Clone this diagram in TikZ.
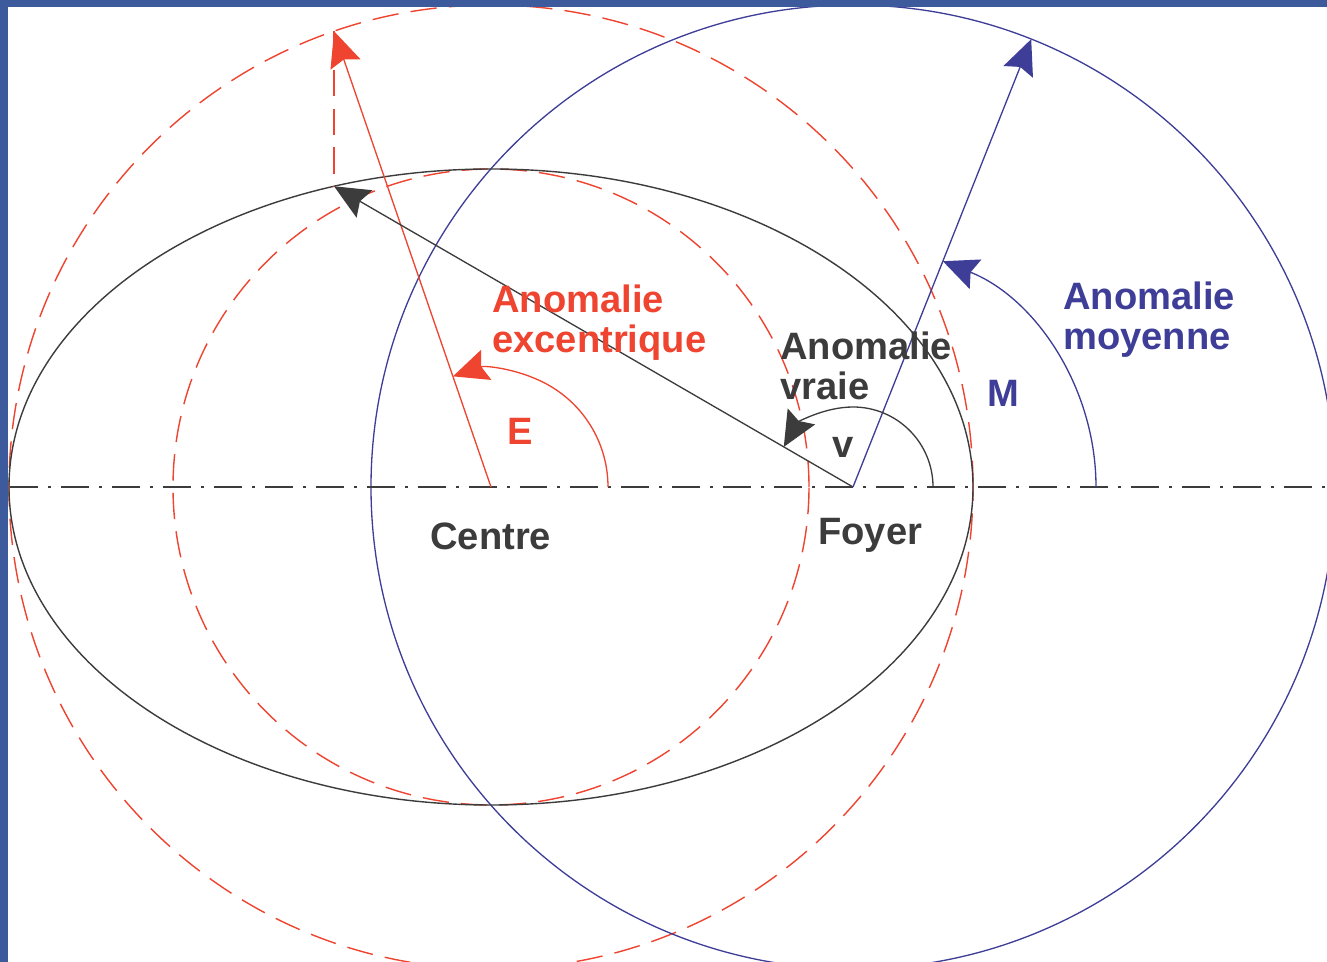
\documentclass[tikz,border=0pt]{standalone}
\usepackage{fontspec}
\setmainfont{Liberation Sans}
\usetikzlibrary{arrows.meta,calc}
\definecolor{KepRed}{HTML}{EE4430}
\definecolor{KepBlue}{HTML}{3E3E98}
\definecolor{KepGray}{HTML}{3C3C3C}
\definecolor{KepFrame}{HTML}{3D5A9C}

\begin{document}
\begin{tikzpicture}[x=0.02cm,y=0.02cm,
    redaux/.style={KepRed,line width=0.8pt,dash pattern=on 15pt off 7pt},
    axisline/.style={KepGray,line width=0.8pt,
      dash pattern=on 15.9pt off 5.7pt on 1.7pt off 5.7pt},
    vec/.style={line width=0.75pt,-{Stealth[length=20pt,width=18pt,inset=3pt]}},
    lbl/.style={font=\fontsize{21.7}{22.7}\selectfont\bfseries,inner sep=0pt,align=left}]
  \useasboundingbox (-491,-475) rectangle (836,487);
  \clip (-491,-475) rectangle (836,487);
  \fill[white] (-491,-475) rectangle (836,487);

  \coordinate (C) at (0,0);
  \coordinate (F) at (362,0);
  \coordinate (axL) at (-481,0);
  \coordinate (axR) at (836,0);
  % E = 109 deg on the auxiliary circle, M = E - e sin E = 68.3 deg
  \coordinate (Q) at (109:482);
  \coordinate (P) at ({482*cos(109)},{318*sin(109)});
  \coordinate (R) at ($(F)+(68.3:482)$);

  % circles and orbit
  \foreach \rr in {482,318}{
    \draw[redaux] (C) circle[radius=\rr];
  }
  \draw[KepBlue,line width=0.75pt] (F) circle[radius=482];
  \draw[KepGray,line width=0.8pt] (C) ellipse[x radius=482,y radius=318];
  \draw[axisline] (axL) -- (axR);

  % radius vectors
  \draw[redaux] (Q) -- (P);
  \draw[KepRed,vec] (C) -- (Q);
  \draw[KepGray,vec,fill=KepGray] (F) -- (P);
  \draw[KepBlue,vec] (F) -- (R);

  % angles
  \draw[KepRed,vec] ($(C)+(117,0)$) arc[start angle=0,end angle=109,radius=117];
  \draw[KepGray,vec] ($(F)+(80,0)$) arc[start angle=0,end angle=149.9,radius=80];
  \draw[KepBlue,vec] ($(F)+(243,0)$) arc[start angle=0,end angle=68.3,radius=243];

  \node[lbl,KepRed,anchor=north west] (excLbl) at (1,202) {Anomalie\\excentrique};
  \node[lbl,KepRed] (eLbl) at (29,56) {E};
  \node[lbl,KepGray,anchor=north west] (vraieLbl) at (289,155) {Anomalie\\vraie};
  \node[lbl,KepGray] (vLbl) at (352,40) {v};
  \node[lbl,KepGray,anchor=north west] (foyerLbl) at (327,-31) {Foyer};
  \node[lbl,KepGray,anchor=north west] (centreLbl) at (-61,-36) {Centre};
  \node[lbl,KepBlue] (mLbl) at (512,94) {M};
  \node[lbl,KepBlue,anchor=north west] (moyLbl) at (572,205) {Anomalie\\moyenne};

  % slide frame
  \fill[KepFrame] (-491,-475) rectangle (-482.5,487);
  \fill[KepFrame] (-491,480) rectangle (836,487);
\end{tikzpicture}
\end{document}
